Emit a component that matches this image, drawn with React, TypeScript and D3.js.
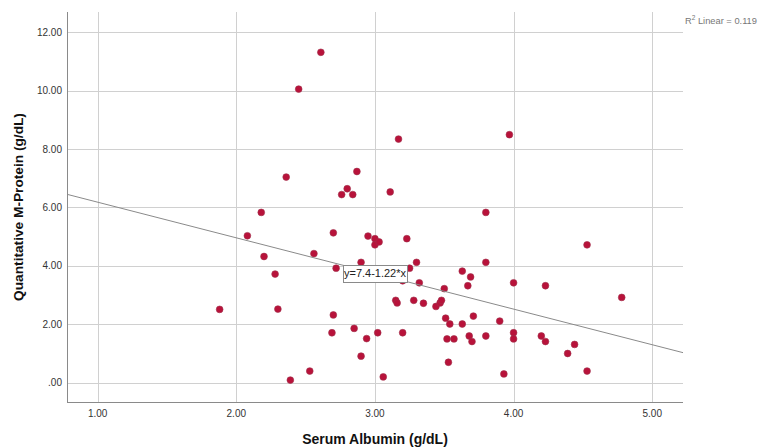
import React from 'react';
import * as d3 from 'd3';

// serum albumin (g/dL) vs quantitative M-protein (g/dL)
const albumin = [
  1.88, 2.08, 2.18, 2.2, 2.28, 2.3, 2.36, 2.39, 2.45, 2.53, 2.56, 2.61, 2.69, 2.7, 2.7,
  2.72, 2.76, 2.8, 2.84, 2.85, 2.87, 2.9, 2.9, 2.94, 2.95, 3.0, 3.0, 3.02, 3.03, 3.06,
  3.11, 3.15, 3.16, 3.17, 3.2, 3.2, 3.23, 3.25, 3.28, 3.3, 3.32, 3.35, 3.44, 3.47, 3.48,
  3.5, 3.51, 3.52, 3.53, 3.54, 3.57, 3.63, 3.63, 3.67, 3.68, 3.69, 3.7, 3.71, 3.8, 3.8,
  3.8, 3.9, 3.93, 3.97, 4.0, 4.0, 4.0, 4.2, 4.23, 4.23, 4.39, 4.44, 4.53, 4.53, 4.78,
];
const mProtein = [
  2.51, 5.03, 5.83, 4.32, 3.72, 2.52, 7.04, 0.09, 10.05, 0.4, 4.42, 11.31, 1.71, 2.32, 5.13,
  3.92, 6.44, 6.64, 6.44, 1.86, 7.23, 0.91, 4.12, 1.51, 5.02, 4.93, 4.72, 1.71, 4.82, 0.2,
  6.53, 2.82, 2.73, 8.34, 1.71, 3.49, 4.93, 3.92, 2.82, 4.12, 3.42, 2.72, 2.61, 2.73, 2.82,
  3.22, 2.21, 1.5, 0.7, 2.01, 1.5, 3.82, 2.01, 3.32, 1.6, 3.62, 1.41, 2.28, 5.83, 4.12,
  1.6, 2.11, 0.3, 8.49, 3.42, 1.71, 1.5, 1.6, 3.32, 1.41, 1.0, 1.31, 4.72, 0.4, 2.92,
];

const xTicks = [1, 2, 3, 4, 5];
const yTicks = [0, 2, 4, 6, 8, 10, 12];

// fit line as printed on the chart
const intercept = 7.4;
const slope = -1.22;
const fitLabel = 'y=7.4-1.22*x';
const r2 = '0.119';

const W = 759;
const H = 447;
const left = 67;
const right = 683;
const top = 12;
const bottom = 402;

const fmt = (v: number) => (v === 0 ? '.00' : d3.format('.2f')(v));

export default function App() {
  const x = d3.scaleLinear().domain([0.779, 5.222]).range([left, right]);
  const y = d3.scaleLinear().domain([-0.66, 12.69]).range([bottom, top]);

  const [x0, x1] = x.domain();
  const line = d3
    .line<number>()
    .x(d => x(d))
    .y(d => y(intercept + slope * d));

  const xm = (x0 + x1) / 2;
  const bx = x(xm);
  const by = y(intercept + slope * xm);
  const boxW = 64;
  const boxH = 17;

  const font = 'Arial, "Liberation Sans", sans-serif';

  return (
    <svg width={W} height={H} style={{ position: 'absolute', left: 0, top: 0, background: '#fff' }}>
      {/* grid */}
      <g stroke="#d0d0d0" strokeWidth={1}>
        {yTicks.map(t => (
          <line key={'gy' + t} x1={left} x2={right} y1={Math.round(y(t)) + 0.5} y2={Math.round(y(t)) + 0.5} />
        ))}
        {xTicks.map(t => (
          <line key={'gx' + t} x1={Math.round(x(t)) + 0.5} x2={Math.round(x(t)) + 0.5} y1={top} y2={bottom} />
        ))}
      </g>

      {/* axes */}
      <g stroke="#8a8a8a" strokeWidth={1}>
        <line x1={left + 0.5} x2={left + 0.5} y1={top} y2={bottom} />
        <line x1={left} x2={right} y1={bottom + 0.5} y2={bottom + 0.5} />
      </g>

      <g fontFamily={font} fontSize={10} fill="#333">
        {yTicks.map(t => (
          <text key={'ty' + t} x={62} y={y(t)} dy="0.35em" textAnchor="end">
            {fmt(t)}
          </text>
        ))}
        {xTicks.map(t => (
          <text key={'tx' + t} x={x(t)} y={417} textAnchor="middle">
            {fmt(t)}
          </text>
        ))}
      </g>

      {/* points */}
      <g fill="#b8123a" stroke="#a0304c" strokeWidth={0.6}>
        {albumin.map((a, i) => (
          <circle key={i} cx={x(a)} cy={y(mProtein[i])} r={3.4} />
        ))}
      </g>

      {/* regression */}
      <path d={line([x0, x1]) || ''} fill="none" stroke="#8a8a8a" strokeWidth={1} />

      <g fontFamily={font}>
        <rect
          x={Math.round(bx - boxW / 2) + 0.5}
          y={Math.round(by - boxH / 2) + 0.5}
          width={boxW}
          height={boxH}
          fill="#fff"
          stroke="#8a8a8a"
        />
        <text x={bx} y={by} dy="0.36em" textAnchor="middle" fontSize={11} fill="#222">
          {fitLabel}
        </text>
      </g>

      <text x={685} y={24} fontFamily={font} fontSize={9.3} fill="#777">
        R<tspan fontSize={6.5} dy={-4}>2</tspan>
        <tspan dy={4}> Linear = {r2}</tspan>
      </text>

      {/* axis titles */}
      <text
        x={(left + right) / 2}
        y={444}
        textAnchor="middle"
        fontFamily={font}
        fontSize={14}
        fontWeight="bold"
        fill="#111"
      >
        Serum Albumin (g/dL)
      </text>
      <text
        transform={`translate(23,${(top + bottom) / 2}) rotate(-90)`}
        textAnchor="middle"
        fontFamily={font}
        fontSize={13.7}
        fontWeight="bold"
        fill="#111"
      >
        Quantitative M-Protein (g/dL)
      </text>
    </svg>
  );
}
